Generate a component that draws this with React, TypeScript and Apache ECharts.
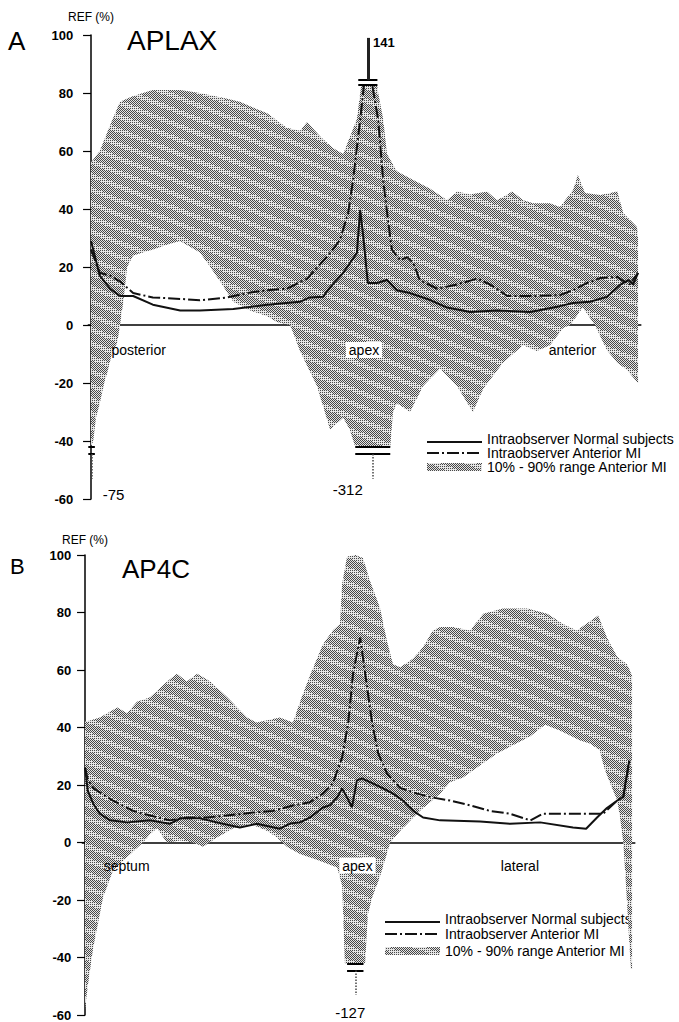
import React, { useEffect, useRef } from 'react';
import * as echarts from 'echarts';

const FONT = "'Liberation Sans', Arial, Helvetica, sans-serif";
const NAME_NORMAL = 'Intraobserver Normal subjects';
const NAME_ANT = 'Intraobserver Anterior MI';
const NAME_RANGE = '10% - 90% range Anterior MI';

// ---------- Panel A : APLAX (x = position along contour, % ; y = REF %) ----------
const aRegionPos = [8.7, 49.9, 88.0];
const aRegionNames = ['posterior', 'apex', 'anterior'];

const aUpperX = [0, 1.6, 3.5, 5.3, 7.7, 11.3, 16.3, 19.9, 24.9, 27.2, 29.6, 32.2, 35.8, 38.2, 39.5, 41.9, 44.2, 46.1, 48.6, 49.2, 49.4, 52.3, 52.5, 53.4, 54.1, 55.9, 58.9, 62.0, 65.1, 66.9, 69.3, 72.4, 74.2, 77.0, 79.0, 80.8, 83.9, 85.7, 88.1, 89.0, 90.3, 93.1, 96.2, 97.3, 99.8, 100];
const aUpperY = [56, 60, 69, 77, 79, 81, 81, 80, 78, 77, 75, 73, 68, 67, 70, 65, 61, 59, 71, 80, 82.8, 82.8, 80, 71, 59, 53, 50, 47, 43, 46, 45, 46, 43, 46, 43, 42, 42, 40.7, 46.5, 51.7, 45.5, 44.8, 46, 38.6, 33.8, 30];
const aLowerX = [0, 0.4, 0.9, 1.6, 2.4, 2.9, 3.8, 4.8, 5.3, 5.9, 6.6, 7.7, 11.3, 14.4, 16.3, 18.1, 19.9, 21.8, 23.6, 26.0, 29.1, 32.2, 34.0, 36.4, 38.2, 41.3, 43.7, 46.1, 47.3, 48.3, 54.7, 55.2, 55.9, 58.3, 60.7, 63.8, 66.9, 69.8, 71.7, 75.3, 79.0, 81.5, 83.9, 86.3, 87.6, 89.9, 92.1, 94.3, 96.2, 98.0, 99.5, 100];
const aLowerY = [-42, -40, -32, -27, -20, -17, -10, -6, 0, 8, 20, 24, 26, 28, 29, 27, 25, 20, 15, 8, 5, 3, 1, 0, -9, -21, -36, -32, -36, -42, -42, -30, -27, -30, -21, -15, -21, -30, -22, -13, -7, -9, -7, -1, 0, 6, 0, -8.6, -13, -15.5, -19, -20];

const aNormalX = [0, 1.6, 3.5, 5.3, 7.7, 11.3, 16.3, 19.9, 26.0, 32.2, 38.2, 40.0, 42.4, 43.7, 46.1, 48.6, 49.2, 49.7, 50.6, 52.3, 54.1, 55.9, 58.3, 62.0, 65.1, 69.3, 74.2, 80.3, 85.7, 88.1, 91.2, 94.3, 96.7, 98.2, 99.1, 100];
const aNormalY = [29, 17, 12.5, 10, 10, 7, 5, 5, 5.5, 7, 8, 9.5, 9.7, 13, 18, 24.8, 39.7, 31.7, 14.5, 14.5, 15.5, 12, 11, 8.6, 6, 4.5, 5, 4.5, 6.5, 7.6, 8, 9.7, 13.8, 15.5, 14, 18];
const aAntX = [0, 1.6, 3.5, 5.3, 7.7, 11.3, 16.3, 19.9, 24.9, 28.5, 32.2, 35.8, 39.5, 41.9, 43.7, 45.5, 47.0, 47.9, 49.2, 49.9, 51.4, 52.5, 53.4, 54.3, 55.0, 56.5, 57.8, 58.9, 60.1, 63.3, 66.9, 70.6, 72.9, 76.1, 80.3, 85.7, 88.1, 90.7, 93.1, 96.2, 97.6, 98.5, 100];
const aAntY = [26, 18, 17, 15, 11, 9.5, 9, 8.5, 9.5, 11, 12, 12.5, 16, 21, 24.8, 29.3, 38.6, 50, 70.7, 82.8, 82.8, 70.7, 50, 36, 26, 22.4, 23.4, 21.4, 15.5, 12.5, 14, 16, 14, 10, 10, 10.3, 12, 14.5, 16.2, 16.6, 14.8, 14, 18];

// truncated 10th / 90th percentile values (shown with a break)
const aBreakX = [0.1, 50.6, 51.5];
const aBreakValue = [-75, 141, -312];

// ---------- Panel B : AP4C ----------
const bRegionPos = [7.6, 49.8, 79.5];
const bRegionNames = ['septum', 'apex', 'lateral'];

const bUpperX = [0, 0.9, 2.7, 5.9, 7.7, 9.5, 11.9, 15.0, 16.8, 18.6, 20.5, 22.9, 26.0, 29.6, 31.4, 35.6, 38.0, 39.3, 41.1, 43.5, 45.3, 46.6, 47.0, 47.9, 49.4, 50.8, 52.1, 53.9, 55.2, 56.3, 57.6, 60.0, 61.8, 63.6, 64.9, 67.3, 70.4, 72.8, 76.4, 80.8, 84.5, 87.4, 89.9, 92.3, 93.8, 95.4, 97.3, 99.1, 100];
const bUpperY = [42, 42.4, 43.5, 47, 45, 49, 50.5, 56, 58.7, 56, 58.7, 56, 50.5, 43.5, 41.7, 43.5, 41.7, 49, 58, 69, 73.7, 76, 90, 99.5, 100, 99, 91, 81.7, 70, 62, 61, 64, 68, 73.7, 75, 75, 73.7, 79.6, 81.4, 81.4, 79.6, 76, 73.7, 77, 79, 71.3, 64.5, 62, 58];
const bLowerX = [0, 0.5, 1.5, 3.3, 5.1, 7.7, 10.6, 11.9, 13.2, 14.6, 15.0, 17.4, 19.7, 21.6, 24.1, 27.1, 30.2, 33.3, 35.1, 36.9, 39.3, 42.4, 46.1, 47.0, 47.5, 51.2, 51.7, 52.5, 53.9, 55.8, 57.6, 61.2, 64.9, 66.7, 69.1, 75.3, 81.4, 84.1, 86.8, 90.5, 92.3, 94.1, 94.9, 96.0, 97.3, 97.8, 98.4, 98.9, 99.5, 99.8, 100];
const bLowerY = [-58, -50, -36.5, -19, -9.7, -5, 0, 3, 5, 1, 0, 0.7, 0, -1.5, 1.7, 5, 6.5, 4, 1.7, -1.5, -4, -6, -8.7, -15, -42, -42, -25, -19, -12, 0, 4, 11, 17, 21, 22.6, 31, 37, 41, 39, 35.5, 34.4, 32, 26, 20.5, 14.6, 8.7, 0, -15, -35, -44, -44];

const bNormalX = [0, 0.5, 1.5, 2.7, 4.6, 7.7, 11.9, 15.5, 17.4, 21.0, 24.1, 28.3, 31.4, 35.6, 37.5, 39.3, 41.1, 43.5, 44.8, 46.1, 47.0, 47.9, 48.8, 49.7, 50.6, 52.7, 54.5, 56.3, 58.1, 60.0, 61.8, 64.9, 72.2, 77.7, 83.2, 89.2, 91.6, 93.6, 95.4, 97.3, 98.4, 98.9, 99.5];
const bNormalY = [26, 18, 13.5, 10, 7.7, 7, 7.7, 6.5, 8.4, 8.4, 7, 5.2, 6.5, 4.8, 6.6, 7, 8.7, 12.2, 13, 15.7, 18.8, 15.7, 12.2, 21.6, 22.3, 20.5, 18.8, 17, 14.6, 11, 8.7, 7.7, 7.3, 6.5, 7, 5.2, 4.8, 8.7, 12, 14.6, 16, 22, 28.5];
const bAntX = [0, 0.5, 1.5, 2.2, 5.1, 8.8, 11.9, 15.5, 18.6, 22.3, 25.9, 30.7, 34.4, 38.0, 41.1, 43.5, 45.3, 47.0, 48.1, 49.0, 50.3, 51.2, 52.5, 53.6, 55.2, 57.6, 60.7, 63.4, 66.7, 70.4, 74.0, 77.7, 81.4, 83.7, 88.3, 94.7, 97.3, 98.4, 99.5];
const bAntY = [26, 22, 19, 18, 14.6, 11, 9.4, 7.7, 8.7, 8.7, 9.4, 10.4, 11, 12.9, 14, 17, 20.5, 29.6, 41.4, 58.8, 71.3, 58.8, 41.4, 31, 24, 19, 17, 15.7, 14.6, 12.9, 11, 10, 7.7, 10, 10, 10, 14.6, 15.7, 28.5];

const bBreakX = [49.4];
const bBreakValue = [-127];

// ---------- styling helpers ----------
const breakHalfA = [0.6, 1.75, 3.2];
const breakHalfB = [1.5];
const breakLabelOffsetA: number[][] = [[22, 16], [16, 5], [-25, 11]];
const breakLabelOffsetB: number[][] = [[-5, 18]];
const DASH = [12, 3, 2, 3];

function makeTexture(): HTMLCanvasElement {
  const w = 36;
  const h = 14;
  const c = document.createElement('canvas');
  c.width = w;
  c.height = h;
  const g = c.getContext('2d')!;
  const img = g.createImageData(w, h);
  for (let y = 0; y < h; y++) {
    for (let x = 0; x < w; x++) {
      const d = (((y - (x * h) / w) % h) + h) % h;
      const dist = Math.min(d, h - d);
      const inBand = dist < 2.4;
      const dark = inBand ? x % 2 === 0 && y % 2 === 0 : (x + y) % 2 === 0;
      const v = dark ? 72 : 228;
      const k = (y * w + x) * 4;
      img.data[k] = v;
      img.data[k + 1] = v;
      img.data[k + 2] = v;
      img.data[k + 3] = 255;
    }
  }
  g.putImageData(img, 0, 0);
  return c;
}

function bandSeries(idx: number, upX: number[], upY: number[], loX: number[], loY: number[], fill: any) {
  return {
    type: 'custom',
    name: NAME_RANGE,
    xAxisIndex: idx,
    yAxisIndex: idx,
    coordinateSystem: 'cartesian2d',
    itemStyle: { color: '#b0b0b0' },
    data: [[0, 0]],
    silent: true,
    clip: false,
    z: 1,
    renderItem: (params: any, api: any) => {
      const pts: number[][] = [];
      for (let i = 0; i < upX.length; i++) pts.push(api.coord([upX[i], upY[i]]));
      for (let i = loX.length - 1; i >= 0; i--) pts.push(api.coord([loX[i], loY[i]]));
      return { type: 'polygon', shape: { points: pts }, style: { fill, stroke: null } };
    },
  };
}

function breakMarks(xs: number[], vals: number[], halves: number[], offsets: number[][]) {
  const lines: any[] = [];
  const points: any[] = [];
  xs.forEach((x, i) => {
    const h = halves[i];
    const bar = { color: '#000', width: 2, type: 'solid' };
    if (vals[i] < 0) {
      lines.push([{ coord: [x - h, -42], lineStyle: bar }, { coord: [x + h, -42] }]);
      lines.push([{ coord: [x - h, -44.5], lineStyle: bar }, { coord: [x + h, -44.5] }]);
      lines.push([{ coord: [x, -44.5], lineStyle: { color: '#444', width: 1.5, type: 'dotted' } }, { coord: [x, -53] }]);
      points.push({ coord: [x, -53], value: vals[i], label: { offset: offsets[i] } });
    } else {
      lines.push([{ coord: [x - h, 82.8], lineStyle: bar }, { coord: [x + h, 82.8] }]);
      lines.push([{ coord: [x - h, 84.5], lineStyle: bar }, { coord: [x + h, 84.5] }]);
      lines.push([{ coord: [x, 84.5], lineStyle: { color: '#222', width: 3, type: 'solid' } }, { coord: [x, 99] }]);
      points.push({ coord: [x, 99], value: vals[i], label: { offset: offsets[i], fontWeight: 'bold', fontSize: 13 } });
    }
  });
  return {
    markLine: { silent: true, symbol: ['none', 'none'], label: { show: false }, data: lines },
    markPoint: {
      silent: true,
      symbol: 'circle',
      symbolSize: 0,
      itemStyle: { color: 'transparent' },
      label: { show: true, color: '#000', fontSize: 15, fontFamily: FONT, formatter: '{c}' },
      data: points,
    },
  };
}

function regionMarks(pos: number[], names: string[], dy: number) {
  return {
    markPoint: {
      silent: true,
      symbol: 'circle',
      symbolSize: 0,
      itemStyle: { color: 'transparent' },
      label: { show: true, color: '#000', fontSize: 14, fontFamily: FONT, offset: [0, dy], formatter: (p: any) => p.name },
      data: pos.map((x, i) => ({
        coord: [x, 0],
        name: names[i],
        label: names[i] === 'apex' ? { backgroundColor: '#fff', padding: [1, 3] } : {},
      })),
    },
  };
}

function lineSeries(idx: number, name: string, xs: number[], ys: number[], dashed: boolean, extra: any = {}) {
  return {
    type: 'line',
    name,
    xAxisIndex: idx,
    yAxisIndex: idx,
    data: xs.map((x, i) => [x, ys[i]]),
    symbol: 'none',
    showSymbol: false,
    silent: true,
    z: 3,
    itemStyle: { color: '#111' },
    lineStyle: { color: '#111', width: 2, type: dashed ? DASH : 'solid' },
    ...extra,
  };
}

function xAxis(idx: number) {
  return {
    type: 'value',
    gridIndex: idx,
    min: -0.5,
    max: 100.5,
    axisLine: { show: true, onZero: true, lineStyle: { color: '#000', width: 1.5 } },
    axisTick: { show: false },
    splitLine: { show: false },
    axisLabel: { show: false },
  };
}

function yAxis(idx: number, margin: number, nameGap: number) {
  return {
    type: 'value',
    gridIndex: idx,
    min: -60,
    max: 100,
    interval: 20,
    name: 'REF (%)',
    nameLocation: 'end',
    nameGap,
    nameTextStyle: { color: '#000', fontSize: 12, fontFamily: FONT },
    axisLine: { show: true, lineStyle: { color: '#000', width: 1.5 } },
    axisTick: { show: true, length: 8, lineStyle: { color: '#000', width: 1.2 } },
    splitLine: { show: false },
    axisLabel: { color: '#000', fontSize: 13, fontWeight: 'bold', fontFamily: FONT, margin },
  };
}

function legendGraphic(x: number, rows: number[], textRows: number[], fill: any) {
  const txt = (t: string, y: number) => ({
    type: 'text',
    x: x + 60,
    y,
    style: { text: t, font: `14px ${FONT}`, fill: '#000', textAlign: 'left', textVerticalAlign: 'middle' },
  });
  return [
    { type: 'line', shape: { x1: x, y1: rows[0], x2: x + 55, y2: rows[0] }, style: { stroke: '#111', lineWidth: 2 } },
    txt(NAME_NORMAL, textRows[0]),
    { type: 'line', shape: { x1: x, y1: rows[1], x2: x + 55, y2: rows[1] }, style: { stroke: '#111', lineWidth: 2, lineDash: DASH } },
    txt(NAME_ANT, textRows[1]),
    { type: 'rect', shape: { x, y: rows[2] - 4, width: 55, height: 8 }, style: { fill } },
    txt(NAME_RANGE, textRows[2]),
  ];
}

export default function App() {
  const ref = useRef<HTMLDivElement>(null);
  useEffect(() => {
    if (!ref.current) return;
    const chart = echarts.init(ref.current, undefined, { renderer: 'svg' });
    const fill = { image: makeTexture(), repeat: 'repeat' };
    const aBreaks = breakMarks(aBreakX, aBreakValue, breakHalfA, breakLabelOffsetA);
    const bBreaks = breakMarks(bBreakX, bBreakValue, breakHalfB, breakLabelOffsetB);
    const option: any = {
      animation: false,
      backgroundColor: '#fff',
      textStyle: { fontFamily: FONT },
      grid: [
        { left: 88.3, top: 35, width: 552.5, height: 464 },
        { left: 82.3, top: 555, width: 552.5, height: 460 },
      ],
      xAxis: [xAxis(0), xAxis(1)],
      yAxis: [yAxis(0, 15, 12), yAxis(1, 11, 9)],
      graphic: [
        { type: 'text', x: 8, y: 41, style: { text: 'A', font: `26px ${FONT}`, fill: '#000', textAlign: 'left', textVerticalAlign: 'middle' } },
        { type: 'text', x: 127, y: 40, style: { text: 'APLAX', font: `28px ${FONT}`, fill: '#000', textAlign: 'left', textVerticalAlign: 'middle' } },
        { type: 'text', x: 10, y: 566, style: { text: 'B', font: `22px ${FONT}`, fill: '#000', textAlign: 'left', textVerticalAlign: 'middle' } },
        { type: 'text', x: 122, y: 569, style: { text: 'AP4C', font: `26px ${FONT}`, fill: '#000', textAlign: 'left', textVerticalAlign: 'middle' } },
        ...legendGraphic(427, [442, 453, 467], [439, 453, 467], fill),
        ...legendGraphic(385, [922, 934, 951], [919, 934, 951], fill),
      ],
      series: [
        bandSeries(0, aUpperX, aUpperY, aLowerX, aLowerY, fill),
        lineSeries(0, NAME_NORMAL, aNormalX, aNormalY, false, aBreaks),
        lineSeries(0, NAME_ANT, aAntX, aAntY, true, regionMarks(aRegionPos, aRegionNames, 25)),
        bandSeries(1, bUpperX, bUpperY, bLowerX, bLowerY, fill),
        lineSeries(1, NAME_NORMAL, bNormalX, bNormalY, false, bBreaks),
        lineSeries(1, NAME_ANT, bAntX, bAntY, true, regionMarks(bRegionPos, bRegionNames, 23)),
      ],
    };
    chart.setOption(option);
    return () => chart.dispose();
  }, []);
  return <div ref={ref} style={{ position: 'absolute', left: 0, top: 0, width: 679, height: 1022 }} />;
}
